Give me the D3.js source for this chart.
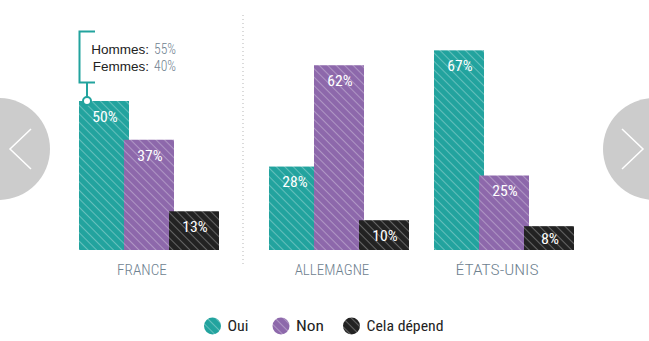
<!DOCTYPE html>
<html>
<head>
<meta charset="utf-8">
<script src="https://cdn.jsdelivr.net/npm/d3@7"></script>
<style>
  html, body { margin: 0; padding: 0; background: #fff; }
  svg { display: block; }
</style>
</head>
<body>
<svg id="chart" width="649" height="341"></svg>
<script>
// ---- data ----
const countries = ["FRANCE", "ALLEMAGNE", "ÉTATS-UNIS"];
const seriesNames = ["Oui", "Non", "Cela dépend"];
const oui = [50, 28, 67];
const non = [37, 62, 25];
const celaDepend = [13, 10, 8];
const seriesColors = ["#22a39e", "#8d68ab", "#222222"];
const noteLabels = ["Hommes:", "Femmes:"];
const noteValues = ["55%", "40%"];

const seriesValues = [oui, non, celaDepend];
const COND = "'Roboto Condensed', Roboto, 'Liberation Sans', sans-serif";

const svg = d3.select("#chart");

// patterns
const defs = svg.append("defs");
seriesColors.forEach((c, i) => {
  const p = defs.append("pattern")
    .attr("id", "pat" + i)
    .attr("patternUnits", "userSpaceOnUse")
    .attr("width", 6).attr("height", 6)
    .attr("patternTransform", "rotate(45)");
  p.append("rect").attr("width", 6).attr("height", 6).attr("fill", c);
  p.append("line").attr("x1", 0).attr("y1", 0.5).attr("x2", 6).attr("y2", 0.5)
    .attr("stroke", "#ffffff").attr("stroke-opacity", 0.3).attr("stroke-width", 1.1);
});

// scales
const baseline = 250;
const y = d3.scaleLinear().domain([0, 100]).range([baseline, baseline - 298]);
const groupStart = d3.scaleOrdinal().domain(countries).range([79, 269, 434]);
const barW = 50, barStep = 45;

const g = svg.append("g");

countries.forEach((c, ci) => {
  const x0 = groupStart(c);
  seriesValues.forEach((vals, si) => {
    const v = vals[ci];
    const top = y(v);
    const xb = x0 + si * barStep;
    g.append("rect")
      .attr("x", xb).attr("y", top)
      .attr("width", barW).attr("height", baseline - top)
      .attr("fill", "url(#pat" + si + ")");
    const ly = Math.min(top + 16, (top + baseline) / 2 + 1.5);
    g.append("text")
      .attr("x", xb + barW / 2 + 1).attr("y", ly)
      .attr("dy", "0.35em")
      .attr("text-anchor", "middle")
      .style("font-family", COND)
      .style("font-weight", 400)
      .attr("fill", "#ffffff")
      .attr("font-size", 14)
      .attr("textLength", String(v).length * 7.2 + 11)
      .attr("lengthAdjust", "spacingAndGlyphs")
      .text(v + "%");
  });
  // category label
  g.append("text")
    .attr("x", x0 + 63)
    .attr("y", 270)
    .attr("dy", "0.35em")
    .attr("text-anchor", "middle")
    .style("font-family", COND)
    .style("font-weight", 300)
    .attr("fill", "#6f8290")
    .attr("font-size", 14.5)
    .attr("textLength", c.length * 8.3)
    .attr("lengthAdjust", "spacingAndGlyphs")
    .text(c);
});

// separator
svg.append("line")
  .attr("x1", 243).attr("x2", 243).attr("y1", 15).attr("y2", 264)
  .attr("stroke", "#b5b5b5").attr("stroke-width", 1)
  .attr("stroke-dasharray", "1,3");

// annotation on France Oui
const ax = groupStart("FRANCE") + 8;
const aTop = y(oui[0]);
const ann = svg.append("g");
ann.append("path")
  .attr("d", `M95,31.5 H79.5 V82.5 H95 M${ax},82.5 V${aTop - 4}`)
  .attr("fill", "none").attr("stroke", "#22a39e").attr("stroke-width", 2);
ann.append("circle")
  .attr("cx", ax).attr("cy", aTop)
  .attr("r", 4).attr("fill", "#fff")
  .attr("stroke", "#22a39e").attr("stroke-width", 2);
noteLabels.forEach((t, i) => {
  ann.append("text")
    .attr("x", 149).attr("y", 49 + i * 17.5).attr("dy", "0.35em")
    .attr("text-anchor", "end")
    .style("font-family", "'Liberation Sans', Arial, sans-serif")
    .attr("font-size", 13.5).attr("fill", "#222")
    .text(t);
  ann.append("text")
    .attr("x", 154).attr("y", 49 + i * 17.5).attr("dy", "0.35em")
    .style("font-family", COND)
    .style("font-weight", 300)
    .attr("font-size", 14).attr("fill", "#6f8290")
    .attr("textLength", 22)
    .attr("lengthAdjust", "spacingAndGlyphs")
    .text(noteValues[i]);
});

// legend
const legendX = [212.5, 281, 351.5];
const legendW = [21, 28, 77];
seriesNames.forEach((n, i) => {
  svg.append("circle")
    .attr("cx", legendX[i]).attr("cy", 326).attr("r", 8.5)
    .attr("fill", "url(#pat" + i + ")");
  svg.append("text")
    .attr("x", legendX[i] + 15).attr("y", 326).attr("dy", "0.35em")
    .style("font-family", COND)
    .attr("font-size", 14.5).attr("fill", "#222")
    .attr("textLength", legendW[i])
    .attr("lengthAdjust", "spacingAndGlyphs")
    .text(n);
});

// nav buttons
const nav = svg.append("g");
nav.append("circle").attr("cx", -1).attr("cy", 149).attr("r", 51).attr("fill", "#cccccc");
nav.append("circle").attr("cx", 654).attr("cy", 149).attr("r", 51).attr("fill", "#cccccc");
nav.append("path").attr("d", "M31,129 L10,149 L31,169")
  .attr("fill", "none").attr("stroke", "#fff").attr("stroke-width", 1.5);
nav.append("path").attr("d", "M622,129 L643,149 L622,169")
  .attr("fill", "none").attr("stroke", "#fff").attr("stroke-width", 1.5);
</script>
</body>
</html>
